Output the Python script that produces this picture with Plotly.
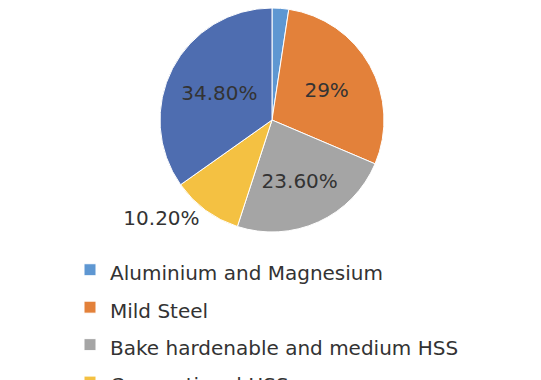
import plotly.graph_objects as go

categories = ["Aluminium and Magnesium", "Mild Steel", "Bake hardenable and medium HSS",
              "Conventional HSS", "Advanced HSS"]
values = [2.4, 29.0, 23.6, 10.2, 34.8]
value_labels = ["", "29%", "23.60%", "10.20%", "34.80%"]
text_positions = ["none", "inside", "inside", "outside", "inside"]
colors = ["#5E97D2", "#E3813A", "#A5A5A5", "#F4C142", "#4E6DB0"]

W, H = 541, 380
R = 112
CX = 264

legend_labels = [f"<span style='font-size:20px'>{c}</span>" for c in categories]

fig = go.Figure(go.Pie(
    labels=legend_labels,
    values=values,
    text=value_labels,
    texttemplate="%{text}",
    textposition=text_positions,
    insidetextorientation="horizontal",
    sort=False,
    direction="clockwise",
    rotation=0,
    marker=dict(colors=colors, line=dict(color="white", width=1)),
    textfont=dict(family="DejaVu Sans", size=20, color="#333333"),
    domain=dict(x=[(CX - R) / W, (CX + R) / W], y=[1 - 2 * R / H, 1]),
    hoverinfo="label+percent",
))

fig.update_layout(
    width=W, height=H,
    margin=dict(l=0, r=0, t=0, b=0, autoexpand=False),
    paper_bgcolor="white",
    showlegend=True,
    legend=dict(
        x=62 / W, xanchor="left",
        y=1 - 238 / H, yanchor="top",
        font=dict(family="DejaVu Sans", size=26.5, color="#333333"),
        bgcolor="rgba(0,0,0,0)",
        traceorder="normal",
    ),
)

fig.write_html("out.html")
